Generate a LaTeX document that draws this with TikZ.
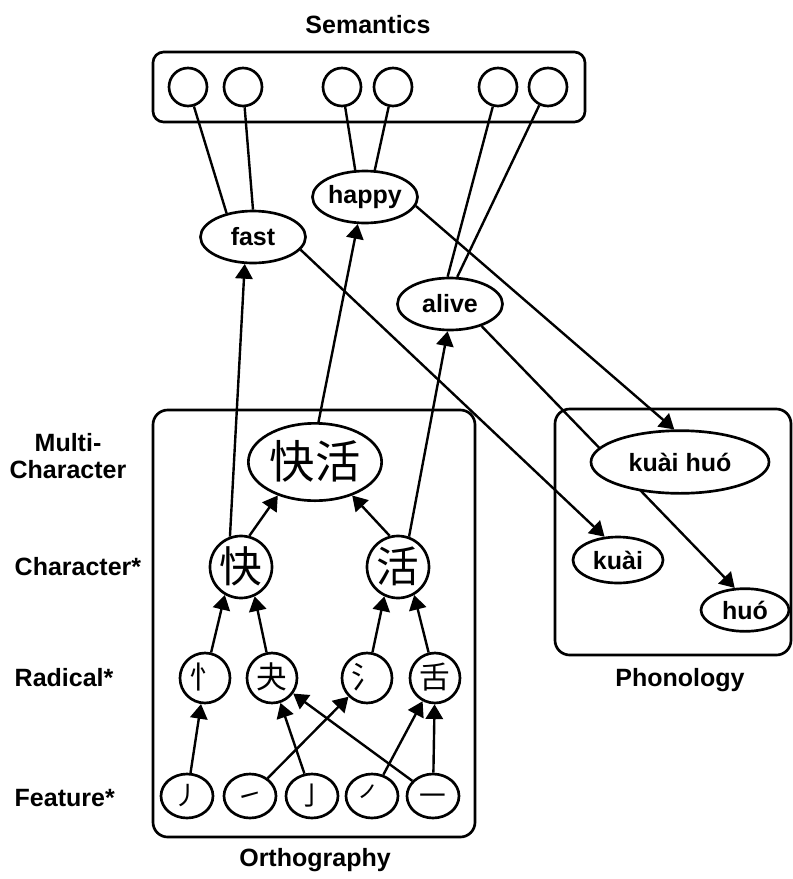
\documentclass[tikz,border=0pt]{standalone}
\usepackage{fontspec}
\setmainfont{Liberation Sans}
\newfontfamily\cjk{Noto Sans CJK SC}
\usetikzlibrary{arrows.meta,shapes.geometric,backgrounds}

\tikzset{
  lbl/.style={font=\bfseries\fontsize{18.75}{20}\selectfont},
  unit/.style={circle,draw,fill=white,line width=2pt,minimum size=28.5pt,inner sep=0pt},
  word/.style={ellipse,draw,fill=white,line width=2pt,inner sep=0pt,
    font=\bfseries\fontsize{18.75}{20}\selectfont},
  sense/.style={word,minimum width=78.75pt,minimum height=39pt},
  hanzi/.style={circle,draw,fill=white,line width=2pt,inner sep=0pt,
    text height=26pt,text depth=3pt,font=\cjk\fontsize{32}{32}\selectfont,minimum size=46.5pt},
  radical/.style={circle,draw,fill=white,line width=2pt,inner sep=0pt,
    text height=18pt,text depth=2pt,font=\cjk\fontsize{23}{23}\selectfont,minimum size=37.5pt},
  stroke/.style={ellipse,draw,fill=white,line width=2pt,inner sep=0pt,
    text height=16.5pt,text depth=1.8pt,font=\cjk\fontsize{20}{20}\selectfont,
    minimum width=39pt,minimum height=33pt},
  pool/.style={draw,line width=2pt},
  link/.style={line width=1.8pt},
  feed/.style={line width=1.8pt,-{Triangle[length=11pt,width=13pt]}},
}

\begin{document}
\begin{tikzpicture}[x=0.75pt,y=-0.75pt]
\useasboundingbox (0,0) rectangle (793,879);

% semantics
\node[lbl] (semlbl) at (368,25) {Semantics};
\foreach \x [count=\i] in {188,243,342,393,498,548}
  \node[unit] (s\i) at (\x,87) {};
\node[sense] (fast) at (253,237) {fast};
\node[sense] (happy) at (365,197) {happy};
\node[sense] (alive) at (450,304) {alive};

% orthography
\node[lbl,align=center] (multilbl) at (68,456) {Multi-\\Character};
\node[lbl,anchor=west] (charlbl) at (10,567) {Character*};
\node[lbl,anchor=west] (radlbl) at (10,678) {Radical*};
\node[lbl,anchor=west] (featlbl) at (10,798) {Feature*};
\node[lbl] (ortholbl) at (315,860) {Orthography};

\node[ellipse,draw,fill=white,line width=2pt,inner sep=0pt,text height=28pt,text depth=3pt,
  font=\cjk\fontsize{34}{34}\selectfont,minimum width=100pt,minimum height=58pt] (ckh) at (315,462) {快活};
\node[hanzi] (ckuai) at (241,567) {快};
\node[hanzi] (chuo) at (398,567) {活};

\node[radical] (r1) at (205,678) {忄};
\node[radical] (r2) at (272,678) {夬};
\node[radical] (r3) at (367,678) {氵};
\node[radical] (r4) at (435,678) {舌};

\node[stroke] (f1) at (187,796) {㇓};
\node[stroke] (f2) at (250,796) {㇀};
\node[stroke] (f3) at (312,796) {亅};
\node[stroke] (f4) at (372,796) {㇒};
\node[stroke] (f5) at (433,796) {一};

% phonology
\node[lbl] (phonlbl) at (680,680) {Phonology};
\node[word,minimum width=133.5pt,minimum height=47pt] (pkh) at (680,462) {kuài huó};
\node[word,minimum width=67.5pt,minimum height=34.5pt] (pkuai) at (618,560) {kuài};
\node[word,minimum width=66pt,minimum height=32pt] (phuo) at (745,610) {huó};

\begin{scope}[on background layer]
\draw[pool,rounded corners=8pt] (153,52) rectangle (585,122);
\draw[pool,rounded corners=11pt] (153,410) rectangle (475,837);
\draw[pool,rounded corners=11pt] (555,409) rectangle (791,655);

% semantic features
\draw[link] (s1) -- (fast.138);
\draw[link] (s2) -- (fast.north);
\draw[link] (s3) -- (happy.110);
\draw[link] (s4) -- (happy.70);
\draw[link] (s5) -- (alive.95);
\draw[link] (s6) -- (alive.75);

% orthography to meaning
\draw[feed] (ckuai.110) -- (fast.253);
\draw[feed] (ckh.85) -- (happy.255);
\draw[feed] (chuo.70) -- (alive.265);

% meaning to sound
\draw[feed] (fast.-15) -- (pkuai.120);
\draw[feed] (happy.-10) -- (pkh.100);
\draw[feed] (alive.-35) -- (phuo.115);

% within orthography
\draw[feed] (ckuai.75) -- (ckh.222);
\draw[feed] (chuo.105) -- (ckh.-42);
\draw[feed] (r1) -- (ckuai.240);
\draw[feed] (r2) -- (ckuai.295);
\draw[feed] (r3) -- (chuo.245);
\draw[feed] (r4) -- (chuo.300);
\draw[feed] (f1) -- (r1);
\draw[feed] (f2) -- (r3);
\draw[feed] (f3) -- (r2);
\draw[feed] (f4) -- (r4);
\draw[feed] (f5) -- (r2);
\draw[feed] (f5) -- (r4);
\end{scope}
\end{tikzpicture}
\end{document}
